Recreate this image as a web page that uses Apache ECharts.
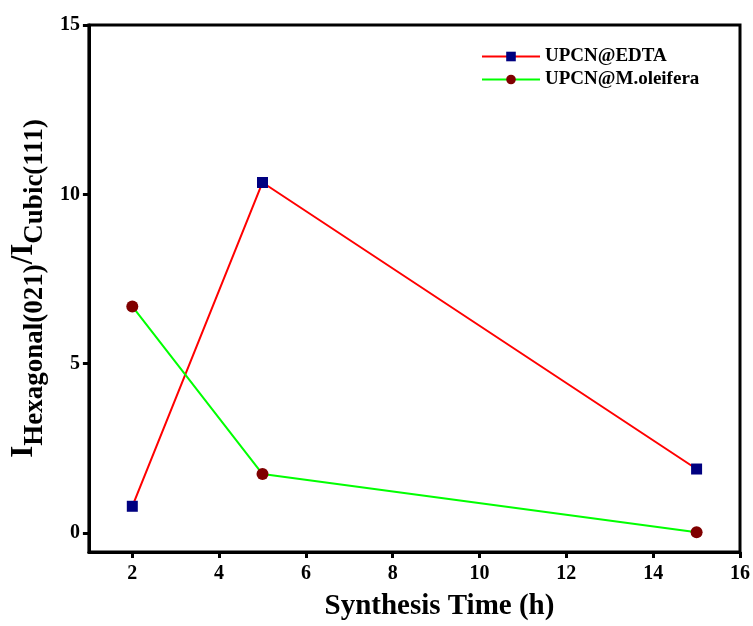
<!DOCTYPE html>
<html>
<head>
<meta charset="utf-8">
<script src="https://cdn.jsdelivr.net/npm/echarts@6/dist/echarts.min.js"></script>
<style>html,body{margin:0;padding:0;background:#fff;}#c{width:753px;height:626px;}</style>
</head>
<body>
<div id="c"></div>
<script>
var timesH = [2, 5, 15];
var edta = [0.79, 10.35, 1.89];
var moleifera = [6.69, 1.74, 0.02];
var xTicks = [2, 4, 6, 8, 10, 12, 14, 16];
var yTicks = [0, 5, 10, 15];
var seriesNames = ['UPCN@EDTA', 'UPCN@M.oleifera'];

var FONT = 'Liberation Serif';
function pairs(xs, ys) { return xs.map(function (x, i) { return [x, ys[i]]; }); }

var chart = echarts.init(document.getElementById('c'));
chart.setOption({
  backgroundColor: '#fff',
  animation: false,
  grid: { left: 88, right: 12, top: 25, bottom: 73, show: true, borderColor: '#000', borderWidth: 3 },
  legend: {
    left: 476, top: 42, orient: 'vertical', itemWidth: 58, itemHeight: 12, itemGap: 4,
    textStyle: { fontFamily: FONT, fontWeight: 'bold', fontSize: 19, color: '#000' },
    data: seriesNames
  },
  xAxis: {
    type: 'value', min: 1, max: 16,
    axisLine: { show: true, onZero: false, lineStyle: { color: '#000', width: 3 } },
    axisTick: { show: true, length: 6, lineStyle: { width: 3, color: '#000' }, customValues: xTicks },
    axisLabel: { customValues: xTicks, margin: 12, fontFamily: FONT, fontWeight: 'bold', fontSize: 20, color: '#000' },
    splitLine: { show: false },
    name: 'Synthesis Time (h)', nameLocation: 'middle', nameGap: 40,
    nameTextStyle: { fontFamily: FONT, fontWeight: 'bold', fontSize: 29, color: '#000', padding: [0, 0, 0, 50] }
  },
  yAxis: {
    type: 'value', min: -0.56, max: 15,
    axisLine: { show: true, onZero: false, lineStyle: { color: '#000', width: 3 } },
    axisTick: { show: true, length: 6, lineStyle: { width: 3, color: '#000' }, customValues: yTicks },
    axisLabel: { customValues: yTicks, margin: 9, fontFamily: FONT, fontWeight: 'bold', fontSize: 20, color: '#000' },
    splitLine: { show: false },
    name: '{big|I}{sub|Hexagonal(021)}{big|/I}{sub|Cubic(111)}',
    nameLocation: 'middle', nameRotate: 90, nameGap: 40,
    nameTextStyle: {
      color: '#000', fontFamily: FONT, fontWeight: 'bold',
      padding: [0, 0, 0, 0],
      rich: {
        big: { fontFamily: FONT, fontWeight: 'bold', fontSize: 31, color: '#000', lineHeight: 31, verticalAlign: 'top' },
        sub: { fontFamily: FONT, fontWeight: 'bold', fontSize: 27, color: '#000', lineHeight: 27, verticalAlign: 'top', padding: [14, 0, 0, 0] }
      }
    }
  },
  series: [
    {
      name: seriesNames[0], type: 'line', data: pairs(timesH, edta),
      symbol: 'rect', symbolSize: 11,
      lineStyle: { color: '#ff0000', width: 2 },
      itemStyle: { color: '#000080' }
    },
    {
      name: seriesNames[1], type: 'line', data: pairs(timesH, moleifera),
      symbol: 'circle', symbolSize: 12,
      lineStyle: { color: '#00ff00', width: 2 },
      itemStyle: { color: '#800000' }
    }
  ]
});
</script>
</body>
</html>
